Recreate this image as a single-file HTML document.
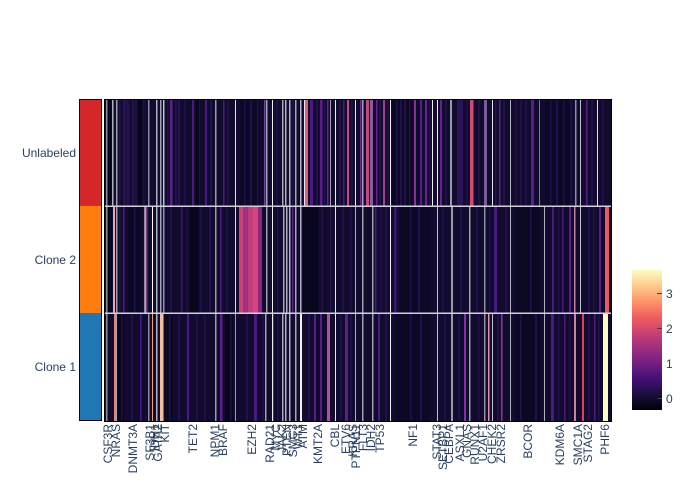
<!DOCTYPE html>
<html><head><meta charset="utf-8"><style>
html,body{margin:0;padding:0;background:#fff;}
svg{display:block;}
text{font-family:"Liberation Sans",Arial,sans-serif;font-size:12px;fill:#2a3f5f;}
</style></head><body>
<svg width="700" height="500" viewBox="0 0 700 500" xmlns="http://www.w3.org/2000/svg">
<defs>
<linearGradient id="mg" x1="0" y1="1" x2="0" y2="0">
<stop offset="0" stop-color="#000004"/>
<stop offset="0.111" stop-color="#180f3d"/>
<stop offset="0.222" stop-color="#440f76"/>
<stop offset="0.333" stop-color="#721f81"/>
<stop offset="0.444" stop-color="#9e2f7f"/>
<stop offset="0.556" stop-color="#cd4071"/>
<stop offset="0.667" stop-color="#f1605d"/>
<stop offset="0.778" stop-color="#fd9668"/>
<stop offset="0.889" stop-color="#feca8d"/>
<stop offset="1" stop-color="#fcfdbf"/>
</linearGradient>
</defs>

<!-- left cluster strip -->
<rect x="80" y="100" width="21" height="106" fill="#d62728"/>
<rect x="80" y="206" width="21" height="107" fill="#ff7f0e"/>
<rect x="80" y="313" width="21" height="107" fill="#1f77b4"/>
<rect x="79.5" y="99.5" width="22" height="321" fill="none" stroke="#000" stroke-width="1"/>

<!-- heatmap base -->
<rect x="105" y="100" width="506" height="321" fill="#110c2e"/>

<!-- Row: Unlabeled -->
<g transform="translate(0,100)">
<rect x="107.5" width="4" height="106" fill="#06051a"/>
<rect x="125" width="3" height="106" fill="#1e1248"/>
<rect x="138" width="4" height="106" fill="#07061a"/>
<rect x="196" width="5" height="106" fill="#07061a"/>
<rect x="240" width="20" height="106" fill="#0c0926"/>
<rect x="392" width="20" height="106" fill="#0b0824"/>
<rect x="545" width="25" height="106" fill="#0c0926"/>
<g fill="#22104c">
<rect x="119" width="1.5" height="106"/><rect x="128" width="1.5" height="106"/><rect x="135" width="2" height="106"/>
<rect x="143" width="1.5" height="106"/><rect x="167" width="1.5" height="106"/><rect x="175" width="2" height="106"/>
<rect x="184" width="1.5" height="106"/><rect x="199" width="1.5" height="106"/><rect x="210" width="2" height="106"/>
<rect x="227" width="1.5" height="106"/><rect x="244" width="1.5" height="106"/><rect x="250" width="2" height="106"/>
<rect x="257" width="1.5" height="106"/><rect x="276" width="1.5" height="106"/><rect x="292" width="1.5" height="106"/>
<rect x="316" width="2" height="106"/><rect x="324" width="1.5" height="106"/><rect x="339" width="2" height="106"/>
<rect x="351" width="1.5" height="106"/><rect x="379" width="2" height="106"/><rect x="387" width="1.5" height="106"/>
<rect x="396" width="1.5" height="106"/><rect x="404" width="2" height="106"/><rect x="409" width="1.5" height="106"/>
<rect x="429" width="1.5" height="106"/><rect x="445" width="2" height="106"/><rect x="466" width="1.5" height="106"/>
<rect x="478" width="2" height="106"/><rect x="495" width="1.5" height="106"/><rect x="503" width="2" height="106"/>
<rect x="515" width="1.5" height="106"/><rect x="525" width="2" height="106"/><rect x="550" width="1.5" height="106"/>
<rect x="556" width="2" height="106"/><rect x="563" width="1.5" height="106"/><rect x="570" width="1.5" height="106"/>
<rect x="591" width="2" height="106"/><rect x="602" width="1.5" height="106"/>
</g>
<rect x="106" width="1.5" height="106" fill="#8a8a9a"/>
<rect x="112" width="1.5" height="106" fill="#b0b0c0"/>
<rect x="116" width="1.5" height="106" fill="#a0a0b0"/>
<rect x="123" width="2" height="106" fill="#2a1250"/>
<rect x="132" width="2" height="106" fill="#2a1250"/>
<rect x="148" width="1.5" height="106" fill="#8a8aa0"/>
<rect x="156" width="1.5" height="106" fill="#b0b0c0"/>
<rect x="160" width="1.5" height="106" fill="#a0a0b8"/>
<rect x="163" width="1.5" height="106" fill="#c0c0d0"/>
<rect x="170" width="2.5" height="106" fill="#5e1f8e"/>
<rect x="178" width="2" height="106" fill="#2a1250"/>
<rect x="192" width="2" height="106" fill="#4a1a80"/>
<rect x="205" width="2" height="106" fill="#4a1a80"/>
<rect x="215" width="1.5" height="106" fill="#9a9aaa"/>
<rect x="223" width="1.5" height="106" fill="#4a1a80"/>
<rect x="235" width="1" height="106" fill="#e0e0ea"/>
<rect x="264" width="1.5" height="106" fill="#7040a0"/>
<rect x="266" width="1.5" height="106" fill="#a0a0b0"/>
<rect x="272" width="1" height="106" fill="#f0f0f0"/>
<rect x="282" width="1.5" height="106" fill="#a8a8b8"/>
<rect x="285" width="1.5" height="106" fill="#b0b0c0"/>
<rect x="289" width="1.5" height="106" fill="#b0b0c0"/>
<rect x="295" width="1.5" height="106" fill="#a8a8b8"/>
<rect x="300" width="1.5" height="106" fill="#b0b0c0"/>
<rect x="304" width="1" height="106" fill="#e8e8f0"/>
<rect x="305" width="3" height="106" fill="#e06078"/>
<rect x="310" width="3" height="106" fill="#4a1a80"/>
<rect x="320" width="2.5" height="106" fill="#5a1e8c"/>
<rect x="327" width="1.5" height="106" fill="#6a2090"/>
<rect x="330" width="1" height="106" fill="#a0a0b0"/>
<rect x="335" width="1" height="106" fill="#e8e8f0"/>
<rect x="343" width="1.5" height="106" fill="#4a1a80"/>
<rect x="347" width="2" height="106" fill="#c04888"/>
<rect x="355" width="1" height="106" fill="#e8e8f0"/>
<rect x="360" width="1.5" height="106" fill="#6a2a90"/>
<rect x="362" width="1.5" height="106" fill="#a0a0b0"/>
<rect x="366" width="3" height="106" fill="#c04a80"/>
<rect x="370" width="3" height="106" fill="#8a5a9a"/>
<rect x="376" width="1.5" height="106" fill="#6a2090"/>
<rect x="383" width="2" height="106" fill="#a04090"/>
<rect x="390" width="1" height="106" fill="#f0f0f0"/>
<rect x="400" width="2" height="106" fill="#1e1248"/>
<rect x="414" width="2" height="106" fill="#8a3090"/>
<rect x="420" width="2" height="106" fill="#5a1e8c"/>
<rect x="425" width="2" height="106" fill="#6a2090"/>
<rect x="432" width="1" height="106" fill="#f0f0f0"/>
<rect x="437" width="1" height="106" fill="#f0f0f0"/>
<rect x="440" width="2" height="106" fill="#6a2090"/>
<rect x="450" width="2" height="106" fill="#9a9aaa"/>
<rect x="457" width="6" height="106" fill="#2a1458"/>
<rect x="470" width="3.5" height="106" fill="#d04a70"/>
<rect x="484" width="3" height="106" fill="#7a5a9a"/>
<rect x="492" width="1" height="106" fill="#e8e8f0"/>
<rect x="499" width="1.5" height="106" fill="#5a1e8c"/>
<rect x="510" width="1" height="106" fill="#b0b0c0"/>
<rect x="520" width="2" height="106" fill="#1e1248"/>
<rect x="531" width="3" height="106" fill="#5a1e8c"/>
<rect x="539" width="1" height="106" fill="#e05050"/>
<rect x="575" width="1.5" height="106" fill="#9090a0"/>
<rect x="580" width="1" height="106" fill="#c0c0d0"/>
<rect x="586" width="1.5" height="106" fill="#5a1e8c"/>
<rect x="597" width="1" height="106" fill="#e0e0ea"/>
</g>

<!-- Row: Clone 2 -->
<g transform="translate(0,206)">
<rect x="108" width="4" height="107" fill="#07061a"/>
<rect x="128" width="14" height="107" fill="#0a0822"/>
<rect x="190" width="8" height="107" fill="#07061a"/>
<rect x="303" width="15" height="107" fill="#08061c"/>
<rect x="400" width="30" height="107" fill="#0c0926"/>
<rect x="515" width="25" height="107" fill="#0a0822"/>
<g fill="#22104c">
<rect x="119" width="1.5" height="107"/><rect x="134" width="1.5" height="107"/><rect x="170" width="2" height="107"/>
<rect x="186" width="1.5" height="107"/><rect x="200" width="1.5" height="107"/><rect x="209" width="2" height="107"/>
<rect x="226" width="1.5" height="107"/><rect x="277" width="1.5" height="107"/><rect x="321" width="2" height="107"/>
<rect x="330" width="1.5" height="107"/><rect x="342" width="2" height="107"/><rect x="350" width="1.5" height="107"/>
<rect x="380" width="1.5" height="107"/><rect x="385" width="2" height="107"/><rect x="410" width="1.5" height="107"/>
<rect x="418" width="2" height="107"/><rect x="442" width="1.5" height="107"/><rect x="460" width="2" height="107"/>
<rect x="476" width="1.5" height="107"/><rect x="489" width="1.5" height="107"/><rect x="505" width="2" height="107"/>
<rect x="530" width="1.5" height="107"/><rect x="558" width="1.5" height="107"/><rect x="588" width="2" height="107"/>
<rect x="593" width="1.5" height="107"/>
</g>
<rect x="106" width="1.5" height="107" fill="#8a8a9a"/>
<rect x="113" width="2" height="107" fill="#e8a8b0"/>
<rect x="116" width="1.5" height="107" fill="#a0a0b0"/>
<rect x="123" width="1.5" height="107" fill="#4a1a80"/>
<rect x="144.5" width="1" height="107" fill="#ffffff"/>
<rect x="145.5" width="2" height="107" fill="#7a3e7a"/>
<rect x="152" width="1" height="107" fill="#ffffff"/>
<rect x="156" width="1.5" height="107" fill="#b0b0c0"/>
<rect x="160" width="1.5" height="107" fill="#a0a0b8"/>
<rect x="163" width="1.5" height="107" fill="#9090a8"/>
<rect x="181" width="1.5" height="107" fill="#3a1670"/>
<rect x="215" width="1.5" height="107" fill="#9a9aaa"/>
<rect x="220" width="1.5" height="107" fill="#4a1a80"/>
<rect x="235" width="1" height="107" fill="#e0e0ea"/>
<rect x="239" width="4" height="107" fill="#d0407a"/>
<rect x="243" width="5" height="107" fill="#a0307f"/>
<rect x="248" width="5" height="107" fill="#c03c7e"/>
<rect x="253" width="5" height="107" fill="#d8457a"/>
<rect x="258" width="4" height="107" fill="#8a2880"/>
<rect x="266" width="1.5" height="107" fill="#a0a0b0"/>
<rect x="272" width="1" height="107" fill="#f0f0f0"/>
<rect x="283" width="1.5" height="107" fill="#a8a8b8"/>
<rect x="286" width="1.5" height="107" fill="#b0b0c0"/>
<rect x="289" width="1.5" height="107" fill="#b0b0c0"/>
<rect x="292" width="1.5" height="107" fill="#5a1e8c"/>
<rect x="295" width="1.5" height="107" fill="#a8a8b8"/>
<rect x="300" width="1.5" height="107" fill="#b0b0c0"/>
<rect x="335" width="1" height="107" fill="#e8e8f0"/>
<rect x="355" width="1" height="107" fill="#b0b0c0"/>
<rect x="362" width="1.5" height="107" fill="#a0a0b0"/>
<rect x="372" width="1.5" height="107" fill="#a0a0b0"/>
<rect x="375" width="1.5" height="107" fill="#4a1a80"/>
<rect x="390" width="1" height="107" fill="#f0f0f0"/>
<rect x="394" width="2.5" height="107" fill="#3a1a70"/>
<rect x="437" width="1" height="107" fill="#c0c0d0"/>
<rect x="451" width="2" height="107" fill="#9a9aaa"/>
<rect x="469" width="1.5" height="107" fill="#a0a0b0"/>
<rect x="484" width="1.5" height="107" fill="#9090a0"/>
<rect x="494" width="3" height="107" fill="#4a1a80"/>
<rect x="510" width="1" height="107" fill="#b0b0c0"/>
<rect x="544" width="1" height="107" fill="#b0b0c0"/>
<rect x="552" width="2" height="107" fill="#4a1a80"/>
<rect x="562" width="1.5" height="107" fill="#4a1a80"/>
<rect x="569" width="2" height="107" fill="#5a1e8c"/>
<rect x="574" width="1.5" height="107" fill="#c080a0"/>
<rect x="580" width="1" height="107" fill="#c0c0d0"/>
<rect x="599" width="2" height="107" fill="#5a1e8c"/>
<rect x="605" width="4" height="107" fill="#e85a60"/>
</g>

<!-- Row: Clone 1 -->
<g transform="translate(0,313)">
<rect x="118" width="6" height="108" fill="#07061a"/>
<rect x="165" width="8" height="108" fill="#0a0822"/>
<rect x="225" width="8" height="108" fill="#07061a"/>
<rect x="395" width="35" height="108" fill="#0c0926"/>
<rect x="515" width="25" height="108" fill="#0a0822"/>
<g fill="#22104c">
<rect x="121" width="1.5" height="108"/><rect x="131" width="2" height="108"/><rect x="169" width="1.5" height="108"/>
<rect x="178" width="2" height="108"/><rect x="196" width="1.5" height="108"/><rect x="204" width="1.5" height="108"/>
<rect x="230" width="1.5" height="108"/><rect x="246" width="2" height="108"/><rect x="262" width="1.5" height="108"/>
<rect x="277" width="1.5" height="108"/><rect x="308" width="2" height="108"/><rect x="340" width="1.5" height="108"/>
<rect x="350" width="1.5" height="108"/><rect x="385" width="2" height="108"/><rect x="410" width="1.5" height="108"/>
<rect x="420" width="2" height="108"/><rect x="444" width="1.5" height="108"/><rect x="458" width="2" height="108"/>
<rect x="478" width="1.5" height="108"/><rect x="497" width="2" height="108"/><rect x="520" width="1.5" height="108"/>
<rect x="535" width="2" height="108"/><rect x="558" width="1.5" height="108"/><rect x="569" width="1.5" height="108"/>
<rect x="588" width="2" height="108"/><rect x="598" width="1.5" height="108"/>
</g>
<rect x="106" width="1.5" height="108" fill="#8a8a9a"/>
<rect x="114" width="2" height="108" fill="#f08070"/>
<rect x="116" width="1" height="108" fill="#a0a0b0"/>
<rect x="140" width="1.5" height="108" fill="#4a1a80"/>
<rect x="148" width="1.5" height="108" fill="#8a8aa0"/>
<rect x="152" width="1" height="108" fill="#f0a060"/>
<rect x="156" width="1.5" height="108" fill="#b0b0c0"/>
<rect x="160" width="3.5" height="108" fill="#f4c0a0"/>
<rect x="187" width="2" height="108" fill="#4a1a80"/>
<rect x="215" width="1.5" height="108" fill="#9a9aaa"/>
<rect x="220" width="2.5" height="108" fill="#5a1e8c"/>
<rect x="235" width="1" height="108" fill="#d08090"/>
<rect x="254" width="3" height="108" fill="#4a1a80"/>
<rect x="265" width="1.5" height="108" fill="#a0a0b0"/>
<rect x="272" width="1" height="108" fill="#f0f0f0"/>
<rect x="273" width="1" height="108" fill="#5a1e8c"/>
<rect x="282" width="1.5" height="108" fill="#a8a8b8"/>
<rect x="285" width="1.5" height="108" fill="#b0b0c0"/>
<rect x="289" width="1.5" height="108" fill="#b0b0c0"/>
<rect x="295" width="1.5" height="108" fill="#a8a8b8"/>
<rect x="300" width="2" height="108" fill="#f0f0f0"/>
<rect x="314" width="2" height="108" fill="#5a1e8c"/>
<rect x="320" width="2" height="108" fill="#5a1e8c"/>
<rect x="327" width="3" height="108" fill="#b050a0"/>
<rect x="335" width="1" height="108" fill="#e8e8f0"/>
<rect x="345" width="3" height="108" fill="#5a1e8c"/>
<rect x="355" width="1" height="108" fill="#b0b0c0"/>
<rect x="362" width="1.5" height="108" fill="#a0a0b0"/>
<rect x="372" width="1.5" height="108" fill="#a0a0b0"/>
<rect x="378" width="2" height="108" fill="#4a1a80"/>
<rect x="390" width="1" height="108" fill="#f0f0f0"/>
<rect x="437" width="1" height="108" fill="#c0c0d0"/>
<rect x="451" width="2" height="108" fill="#9a9aaa"/>
<rect x="464" width="2" height="108" fill="#8030a0"/>
<rect x="469" width="1.5" height="108" fill="#a0a0b0"/>
<rect x="484" width="1.5" height="108" fill="#9090a0"/>
<rect x="488" width="1.5" height="108" fill="#e090a0"/>
<rect x="492" width="1" height="108" fill="#c0c0d0"/>
<rect x="501" width="1.5" height="108" fill="#a03090"/>
<rect x="510" width="1" height="108" fill="#b0b0c0"/>
<rect x="544" width="1" height="108" fill="#b0b0c0"/>
<rect x="551" width="3" height="108" fill="#4a1a80"/>
<rect x="564" width="1.5" height="108" fill="#4a1a80"/>
<rect x="574" width="2" height="108" fill="#d080a0"/>
<rect x="582" width="2" height="108" fill="#e04060"/>
<rect x="594" width="1.5" height="108" fill="#4a1a80"/>
<rect x="603" width="5" height="108" fill="#fcfdbf"/>
</g>

<!-- row separators and border -->
<rect x="105" y="205.5" width="506" height="1.5" fill="#d0d0d8"/>
<rect x="105" y="312.5" width="506" height="1.5" fill="#d0d0d8"/>
<rect x="104.5" y="99.5" width="507" height="322" fill="none" stroke="#000" stroke-width="1"/>

<!-- y labels -->
<text x="76" y="157" text-anchor="end">Unlabeled</text>
<text x="76" y="264" text-anchor="end">Clone 2</text>
<text x="76" y="371" text-anchor="end">Clone 1</text>

<!-- x labels -->
<g text-anchor="end">
<text transform="translate(112,424) rotate(-90)">CSF3R</text>
<text transform="translate(120,424) rotate(-90)">NRAS</text>
<text transform="translate(137,424) rotate(-90)">DNMT3A</text>
<text transform="translate(154,424) rotate(-90)">SF3B1</text>
<text transform="translate(159,424) rotate(-90)">IDH1</text>
<text transform="translate(162,424) rotate(-90)">GATA2</text>
<text transform="translate(169,424) rotate(-90)">KIT</text>
<text transform="translate(197,424) rotate(-90)">TET2</text>
<text transform="translate(219,424) rotate(-90)">NPM1</text>
<text transform="translate(227,424) rotate(-90)">BRAF</text>
<text transform="translate(256,424) rotate(-90)">EZH2</text>
<text transform="translate(274,424) rotate(-90)">RAD21</text>
<text transform="translate(280,424) rotate(-90)">MYC</text>
<text transform="translate(286,424) rotate(-90)">JAK2</text>
<text transform="translate(291,424) rotate(-90)">PTEN</text>
<text transform="translate(297,424) rotate(-90)">SMC3</text>
<text transform="translate(302,424) rotate(-90)">WT1</text>
<text transform="translate(307,424) rotate(-90)">ATM</text>
<text transform="translate(322,424) rotate(-90)">KMT2A</text>
<text transform="translate(339,424) rotate(-90)">CBL</text>
<text transform="translate(350,424) rotate(-90)">ETV6</text>
<text transform="translate(357,424) rotate(-90)">KRAS</text>
<text transform="translate(360,424) rotate(-90)">PTPN11</text>
<text transform="translate(367,424) rotate(-90)">FLT3</text>
<text transform="translate(375,424) rotate(-90)">IDH2</text>
<text transform="translate(384,424) rotate(-90)">TP53</text>
<text transform="translate(417,424) rotate(-90)">NF1</text>
<text transform="translate(441,424) rotate(-90)">STAT3</text>
<text transform="translate(447,424) rotate(-90)">SETBP1</text>
<text transform="translate(453,424) rotate(-90)">CEBPA</text>
<text transform="translate(464,424) rotate(-90)">ASXL1</text>
<text transform="translate(471,424) rotate(-90)">GNAS</text>
<text transform="translate(479,424) rotate(-90)">RUNX1</text>
<text transform="translate(487,424) rotate(-90)">U2AF1</text>
<text transform="translate(496,424) rotate(-90)">CHEK2</text>
<text transform="translate(505,424) rotate(-90)">ZRSR2</text>
<text transform="translate(532,424) rotate(-90)">BCOR</text>
<text transform="translate(564,424) rotate(-90)">KDM6A</text>
<text transform="translate(582,424) rotate(-90)">SMC1A</text>
<text transform="translate(592,424) rotate(-90)">STAG2</text>
<text transform="translate(609,424) rotate(-90)">PHF6</text>
</g>

<!-- colorbar -->
<rect x="632" y="270" width="30" height="140" fill="url(#mg)"/>
<g stroke="#444" stroke-width="1">
<line x1="657" y1="293.5" x2="662" y2="293.5"/>
<line x1="657" y1="328.5" x2="662" y2="328.5"/>
<line x1="657" y1="363.5" x2="662" y2="363.5"/>
<line x1="657" y1="398.5" x2="662" y2="398.5"/>
</g>
<text x="666" y="298">3</text>
<text x="666" y="333">2</text>
<text x="666" y="368">1</text>
<text x="666" y="403">0</text>
</svg>
</body></html>
